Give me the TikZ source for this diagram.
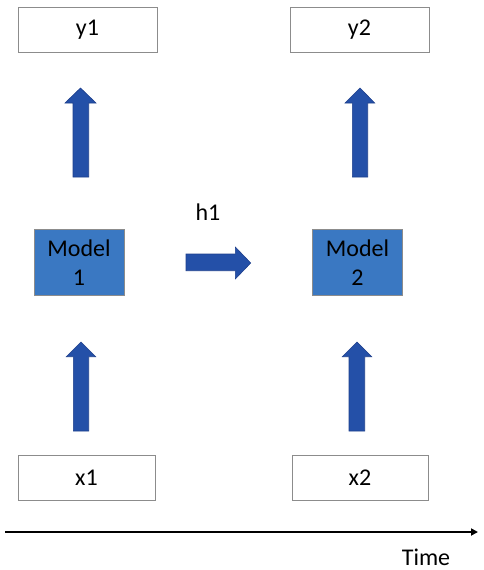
\documentclass[tikz,border=0pt]{standalone}
\usepackage{fontspec}
\setmainfont{Carlito}
\usetikzlibrary{arrows.meta}
\definecolor{boxline}{HTML}{8C8C8C}
\definecolor{modelfill}{HTML}{3A78C2}
\definecolor{arrowfill}{HTML}{2450A8}
\definecolor{arrowline}{HTML}{1E3F8C}
\tikzset{
  outbox/.style={draw=boxline, line width=0.9pt, fill=white, minimum width=139pt, minimum height=45pt, inner sep=0pt, font=\fontsize{24}{29}\selectfont},
  modelbox/.style={draw=boxline, line width=0.9pt, fill=modelfill, minimum width=90pt, minimum height=66pt, inner sep=0pt, align=center, font=\fontsize{24}{29}\selectfont},
  blockarrow/.style={fill=arrowfill, draw=arrowline, line width=0.6pt},
  lbl/.style={inner sep=0pt, font=\fontsize{24}{29}\selectfont}
}
\begin{document}
\begin{tikzpicture}[x=1pt,y=-1pt]
\useasboundingbox (0,0) rectangle (483,570);
% boxes
\node[outbox] (y1) at (87.5,29.5) {y1};
\node[outbox] (y2) at (359.5,29.5) {y2};
\node[modelbox] (m1) at (79,262.5) {Model\\1};
\node[modelbox] (m2) at (357.5,262.5) {Model\\2};
\node[outbox, minimum width=137pt] (x1) at (86.5,477.5) {x1};
\node[outbox, minimum width=136pt] (x2) at (360,477.5) {x2};
% block arrows
\draw[blockarrow] (73,177) -- (73,103) -- (65,103) -- (80.5,88) -- (96,103) -- (88.7,103) -- (88.7,177) -- cycle;
\draw[blockarrow] (352.3,177) -- (352.3,103) -- (345,103) -- (360,88) -- (374.7,103) -- (367.7,103) -- (367.7,177) -- cycle;
\draw[blockarrow] (73.3,431) -- (73.3,356.7) -- (66.3,356.7) -- (81,342) -- (95.7,356.7) -- (88.7,356.7) -- (88.7,431) -- cycle;
\draw[blockarrow] (349,431) -- (349,356.7) -- (342.3,356.7) -- (357,342) -- (371.7,356.7) -- (364.7,356.7) -- (364.7,431) -- cycle;
\draw[blockarrow] (186,254) -- (235.3,254) -- (235.3,247) -- (250.7,263) -- (235.3,279) -- (235.3,270.7) -- (186,270.7) -- cycle;
\node[lbl] (h1) at (208,212) {h1};
% time axis
\coordinate (t0) at (5,532);
\coordinate (t1) at (478,532);
\draw[line width=2.4pt, -{Triangle[length=7pt,width=7pt]}] (t0) -- (t1);
\node[lbl] (time) at (426,557) {Time};
\end{tikzpicture}
\end{document}
